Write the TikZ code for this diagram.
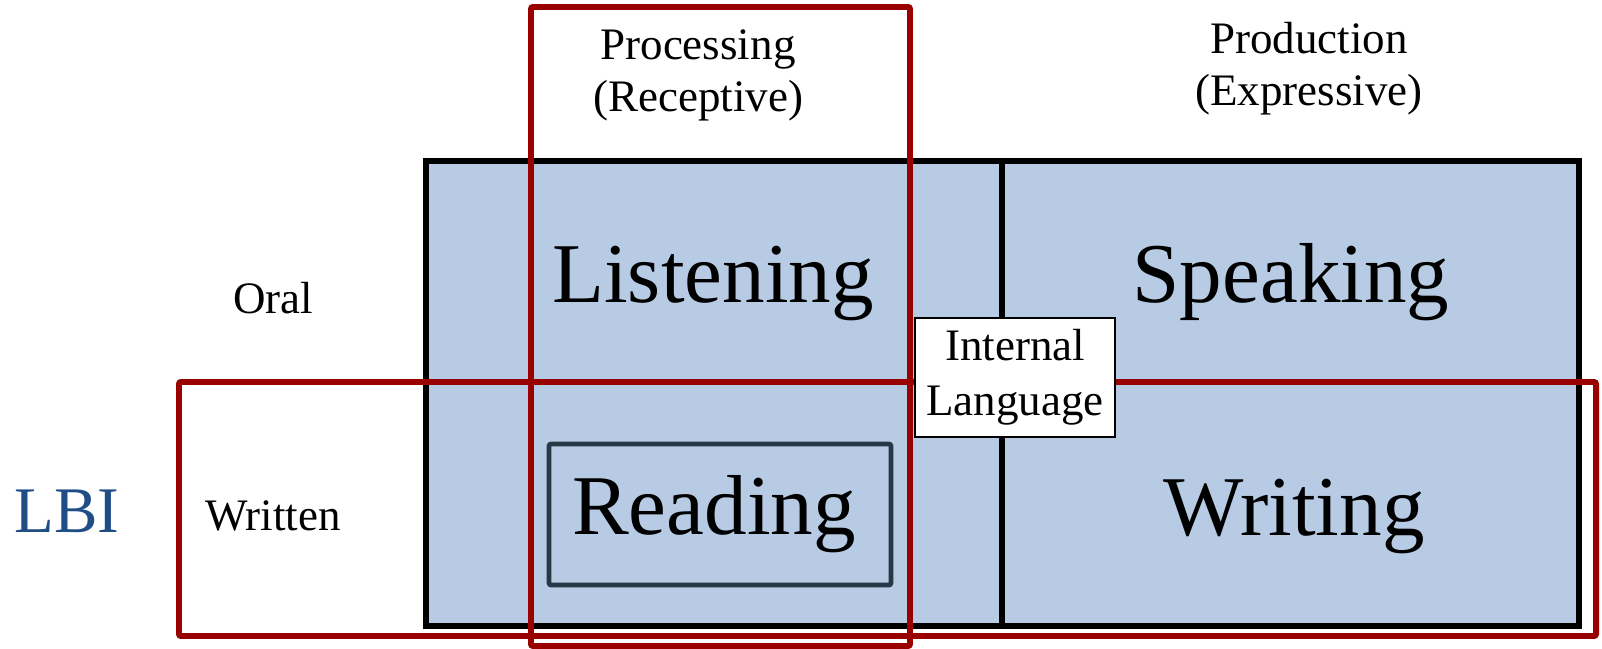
\documentclass[tikz,border=0pt]{standalone}
\usepackage{fontspec}
\setmainfont{Liberation Serif}
\definecolor{cellblue}{RGB}{183,204,228}
\definecolor{boxred}{RGB}{153,0,0}
\definecolor{readbox}{RGB}{36,56,70}
\definecolor{lbiblue}{RGB}{31,77,134}
\tikzset{
  grid/.style={draw=black,line width=1.45pt},
  redbox/.style={draw=boxred,line width=1.7pt,rounded corners=0.6pt},
  small/.style={inner sep=0pt,anchor=base,font=\fontsize{12.8}{15.4}\selectfont},
  big/.style={inner sep=0pt,anchor=base,font=\fontsize{24.2}{29}\selectfont},
}
\begin{document}
\begin{tikzpicture}[x=0.01cm,y=-0.01cm]
\useasboundingbox (0,0) rectangle (1602,649);
% main grid
\fill[cellblue] (426,161) rectangle (1579,626);
\draw[grid] (426,161) rectangle (1579,626);
\coordinate (midtop) at (1002,161);
\coordinate (midbot) at (1002,626);
\draw[grid] (midtop) -- (midbot);
% reading box
\draw[draw=readbox,line width=1.35pt,rounded corners=0.6pt] (549,444) rectangle (891,585);
% red highlight boxes
\draw[redbox] (531,7) rectangle (910,646);
\draw[redbox] (179,382) rectangle (1596,636);
% internal language box
\node[draw=black,fill=white,line width=0.6pt,minimum width=200*0.01cm,minimum height=119*0.01cm,inner sep=0pt] (internal) at (1015,377.5) {};
\node[small] (int1) at (1015,361) {Internal};
\node[small] (int2) at (1015,416) {Language};
% headers
\node[small] (proc1) at (698,60) {Processing};
\node[small] (proc2) at (698,112) {(Receptive)};
\node[small] (prod1) at (1309,54) {Production};
\node[small] (prod2) at (1309,106) {(Expressive)};
% row labels
\node[small] (oral) at (273,314) {Oral};
\node[small] (written) at (273,531) {Written};
\node[inner sep=0pt,anchor=base,font=\fontsize{18.5}{22}\selectfont,text=lbiblue] (lbi) at (67,533) {LBI};
% cells
\node[big] (listening) at (713,303) {Listening};
\node[big] (speaking) at (1291,303) {Speaking};
\node[big] (reading) at (714,535) {Reading};
\node[big] (writing) at (1294,536) {Writing};
\end{tikzpicture}
\end{document}
